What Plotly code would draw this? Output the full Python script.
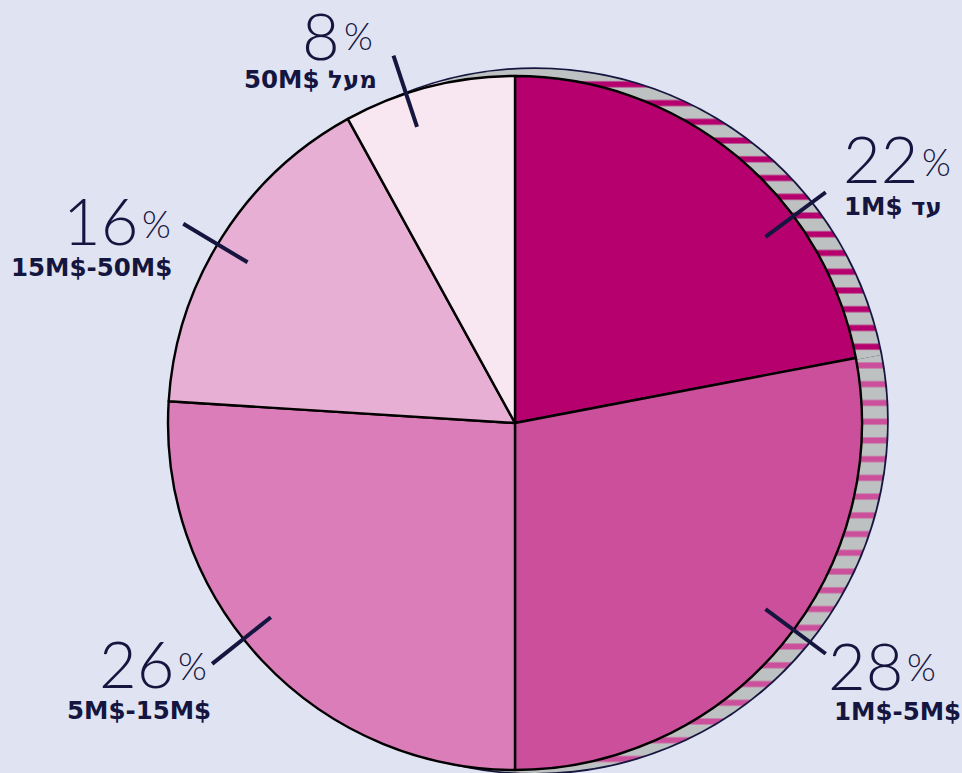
import math
import plotly.graph_objects as go

# --- data -------------------------------------------------------------
categories = ["1M$ עד", "1M$-5M$", "5M$-15M$", "15M$-50M$", "50M$ מעל"]
shares = [22, 28, 26, 16, 8]
slice_colors = ["#b5006e", "#cb4f9b", "#da7db8", "#e8afd4", "#f8e6f1"]

# --- canvas / styling ------------------------------------------------
W, H = 962, 773
BG = "#e0e3f2"
NAVY = "#15163f"
HATCH_GREY = "#bec1c1"

# pie geometry in pixels (centre x, centre y from top, radius)
PIE = (515, 423, 347)
COIN = (535, 421, 352)          # hatched disc peeking out behind the pie
COIN_EDGE = 1.8                 # navy rim thickness

# label layout: junction between number and "%", number centre y,
# percent centre y, subtitle x, subtitle anchor, subtitle centre y
label_layout = [
    (919, 158, 161, 843, "left", 206),
    (903.5, 664.5, 666.5, 833, "left", 711),
    (174.5, 662.5, 665.5, 212, "right", 710),
    (138.5, 220, 223, 173, "right", 268),
    (340.5, 34.5, 35, 378, "right", 79.5),
]
# leader tick: angular nudge from slice middle (deg), inner/outer radius
leader_nudge = [13.8, -3.0, 4.7, -1.4, -3.9]
LEADER_R = (312, 387)


def px(x):
    return x / W


def py(y):
    return 1 - y / H


def domain_for(cx, cy, r):
    x0, x1 = (cx - r) / W, (cx + r) / W
    yb = H - cy
    y0, y1 = (yb - r) / H, (yb + r) / H
    return dict(x=[max(0, x0), min(1, x1)], y=[max(0, y0), min(1, y1)])


common = dict(
    values=shares,
    labels=categories,
    sort=False,
    direction="clockwise",
    rotation=0,
    textinfo="none",
    hoverinfo="skip",
    showlegend=False,
)

fig = go.Figure()

cx, cy, r = COIN
# hatched disc: grey with horizontal stripes in each slice colour
fig.add_trace(go.Pie(
    **common,
    marker=dict(
        colors=[HATCH_GREY] * len(shares),
        line=dict(width=0),
        pattern=dict(
            shape="-",
            fgcolor=slice_colors,
            bgcolor=[HATCH_GREY] * len(shares),
            size=18.74,
            solidity=0.32,
            fillmode="replace",
        ),
    ),
    domain=domain_for(cx, cy, r),
))

# main pie
pcx, pcy, pr = PIE
fig.add_trace(go.Pie(
    **common,
    marker=dict(colors=slice_colors, line=dict(color="#000000", width=2.4)),
    domain=domain_for(pcx, pcy, pr),
))

shapes = [
    # navy rim behind the hatched disc
    dict(
        type="circle", xref="paper", yref="paper", layer="below",
        x0=px(cx - r - COIN_EDGE), x1=px(cx + r + COIN_EDGE),
        y0=py(cy + r + COIN_EDGE), y1=py(cy - r - COIN_EDGE),
        fillcolor=NAVY, line=dict(width=0),
    )
]
annotations = []

# --- leader ticks and labels -----------------------------------------
cum = 0.0
total = float(sum(shares))
for i, v in enumerate(shares):
    mid = (cum + v / 2) / total * 360.0
    cum += v
    ang = math.radians(mid + leader_nudge[i])
    sx, sy = math.sin(ang), -math.cos(ang)
    r0, r1 = LEADER_R
    shapes.append(dict(
        type="line", xref="paper", yref="paper", layer="above",
        x0=px(pcx + r0 * sx), y0=py(pcy + r0 * sy),
        x1=px(pcx + r1 * sx), y1=py(pcy + r1 * sy),
        line=dict(color=NAVY, width=4),
    ))

    jx, ny, pcy_lbl, subx, suba, suby = label_layout[i]
    annotations.append(dict(
        text=str(v), x=px(jx), y=py(ny), xref="paper", yref="paper",
        xanchor="right", yanchor="middle", showarrow=False, borderpad=0,
        font=dict(family="Lato", size=65, color=NAVY, weight=300),
    ))
    annotations.append(dict(
        text="%", x=px(jx + 2), y=py(pcy_lbl), xref="paper", yref="paper",
        xanchor="left", yanchor="middle", showarrow=False, borderpad=0,
        font=dict(family="Lato", size=37, color=NAVY, weight=300),
    ))
    annotations.append(dict(
        text=categories[i], x=px(subx), y=py(suby), xref="paper", yref="paper",
        xanchor=suba, yanchor="middle", showarrow=False, borderpad=0,
        font=dict(family="DejaVu Sans", size=24.5, color=NAVY, weight=700),
    ))

fig.update_layout(
    width=W, height=H,
    margin=dict(l=0, r=0, t=0, b=0),
    paper_bgcolor=BG, plot_bgcolor=BG,
    shapes=shapes, annotations=annotations,
)

fig.write_html("out.html")
